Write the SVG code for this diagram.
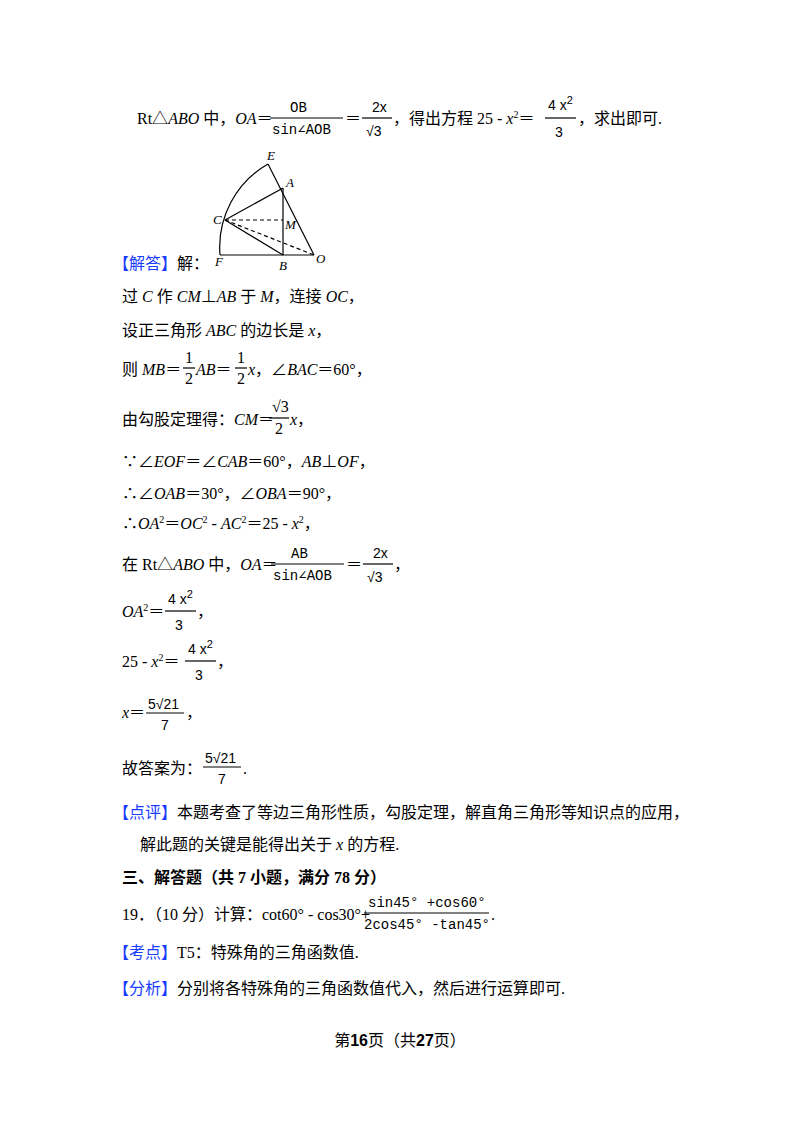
<svg xmlns="http://www.w3.org/2000/svg" width="800" height="1132" viewBox="0 0 800 1132">
<style>
text{font-family:"Liberation Serif","Noto Sans CJK SC",serif;font-size:16px;fill:#000}
.m{font-family:"Liberation Mono","DejaVu Sans Mono",monospace;font-size:14px}
.s{font-family:"Liberation Sans",sans-serif;font-size:14px}
.b{fill:#1a3cff}
.l{font-style:italic;font-size:13px}
line,path{stroke:#000;stroke-width:1.2;fill:none}
.d{stroke-dasharray:4 3}
.h{font-weight:bold}
</style>
<rect width="800" height="1132" fill="#fff"/>
<g id="top">
<text x="137" y="124">Rt△<tspan font-style="italic">ABO</tspan> 中，<tspan font-style="italic">OA</tspan>＝</text>
<text class="m" x="290" y="112">OB</text><line x1="270" y1="118" x2="343" y2="118"/><text class="m" x="272" y="134">sin∠AOB</text>
<text x="345" y="124">＝</text>
<text class="s" x="372" y="112">2x</text><line x1="362" y1="118" x2="392" y2="118"/><text class="s" x="366" y="136">√3</text>
<text x="393" y="124">，得出方程 25 - <tspan font-style="italic">x</tspan><tspan font-size="10" dy="-6">2</tspan><tspan dy="6">＝</tspan></text>
<text class="s" x="548" y="110">4 x<tspan dy="-6" font-size="11">2</tspan></text><line x1="545" y1="118" x2="576" y2="118"/><text class="s" x="555" y="137">3</text>
<text x="578" y="124">，求出即可.</text>
</g>
<g id="figure">
<path d="M220,255 A96,96 0 0 1 268,164"/>
<line x1="268" y1="164" x2="314" y2="255"/>
<line x1="220" y1="255" x2="314" y2="255"/>
<line x1="283" y1="188" x2="283" y2="255"/>
<line x1="225" y1="220" x2="283" y2="188"/>
<line x1="225" y1="220" x2="283" y2="255"/>
<line class="d" x1="225" y1="220" x2="283" y2="220"/>
<line class="d" x1="225" y1="220" x2="314" y2="255"/>
<text class="l" x="267" y="160">E</text>
<text class="l" x="286" y="187">A</text>
<text class="l" x="213" y="224">C</text>
<text class="l" x="285" y="229">M</text>
<text class="l" x="215" y="266">F</text>
<text class="l" x="279" y="270">B</text>
<text class="l" x="316" y="263">O</text>
</g>
<g id="solution">
<text x="113" y="269"><tspan class="b">【解答】</tspan>解：</text>
<text x="122" y="302">过 <tspan font-style="italic">C</tspan> 作 <tspan font-style="italic">CM</tspan>⊥<tspan font-style="italic">AB</tspan> 于 <tspan font-style="italic">M</tspan>，连接 <tspan font-style="italic">OC</tspan>，</text>
<text x="122" y="336">设正三角形 <tspan font-style="italic">ABC</tspan> 的边长是 <tspan font-style="italic">x</tspan>，</text>
<text x="122" y="375">则 <tspan font-style="italic">MB</tspan>＝</text>
<text x="185" y="363" font-size="14">1</text><line x1="183" y1="368" x2="195" y2="368"/><text x="185" y="384" font-size="14">2</text>
<text x="196" y="375"><tspan font-style="italic">AB</tspan>＝</text>
<text x="237" y="363" font-size="14">1</text><line x1="235" y1="368" x2="247" y2="368"/><text x="237" y="384" font-size="14">2</text>
<text x="248" y="375"><tspan font-style="italic">x</tspan>，∠<tspan font-style="italic">BAC</tspan>＝60°，</text>
<text x="122" y="425">由勾股定理得：<tspan font-style="italic">CM</tspan>＝</text>
<text x="272" y="412" font-size="14">√3</text><line x1="269" y1="418" x2="289" y2="418"/><text x="275" y="434" font-size="14">2</text>
<text x="290" y="425"><tspan font-style="italic">x</tspan>，</text>
<text x="122" y="467">∵∠<tspan font-style="italic">EOF</tspan>＝∠<tspan font-style="italic">CAB</tspan>＝60°，<tspan font-style="italic">AB</tspan>⊥<tspan font-style="italic">OF</tspan>，</text>
<text x="122" y="499">∴∠<tspan font-style="italic">OAB</tspan>＝30°，∠<tspan font-style="italic">OBA</tspan>＝90°，</text>
<text x="122" y="529">∴<tspan font-style="italic">OA</tspan><tspan font-size="10" dy="-6">2</tspan><tspan dy="6">＝</tspan><tspan font-style="italic">OC</tspan><tspan font-size="10" dy="-6">2</tspan><tspan dy="6"> - </tspan><tspan font-style="italic">AC</tspan><tspan font-size="10" dy="-6">2</tspan><tspan dy="6">＝25 - </tspan><tspan font-style="italic">x</tspan><tspan font-size="10" dy="-6">2</tspan><tspan dy="6">，</tspan></text>
<text x="122" y="570">在 Rt△<tspan font-style="italic">ABO</tspan> 中，<tspan font-style="italic">OA</tspan>＝</text>
<text class="m" x="291" y="558">AB</text><line x1="271" y1="564" x2="344" y2="564"/><text class="m" x="273" y="580">sin∠AOB</text>
<text x="346" y="570">＝</text>
<text class="s" x="373" y="558">2x</text><line x1="363" y1="564" x2="393" y2="564"/><text class="s" x="367" y="582">√3</text>
<text x="394" y="570">，</text>
<text x="122" y="617"><tspan font-style="italic">OA</tspan><tspan font-size="10" dy="-6">2</tspan><tspan dy="6">＝</tspan></text>
<text class="s" x="168" y="604">4 x<tspan dy="-6" font-size="11">2</tspan></text><line x1="165" y1="611" x2="196" y2="611"/><text class="s" x="175" y="630">3</text>
<text x="197" y="617">，</text>
<text x="122" y="667">25 - <tspan font-style="italic">x</tspan><tspan font-size="10" dy="-6">2</tspan><tspan dy="6">＝</tspan></text>
<text class="s" x="188" y="654">4 x<tspan dy="-6" font-size="11">2</tspan></text><line x1="185" y1="661" x2="216" y2="661"/><text class="s" x="195" y="680">3</text>
<text x="217" y="667">，</text>
<text x="122" y="718"><tspan font-style="italic">x</tspan>＝</text>
<text class="s" x="148" y="709">5√21</text><line x1="146" y1="713" x2="184" y2="713"/><text class="s" x="161" y="730">7</text>
<text x="186" y="718">，</text>
<text x="122" y="774">故答案为：</text>
<text class="s" x="205" y="763">5√21</text><line x1="203" y1="767" x2="241" y2="767"/><text class="s" x="218" y="784">7</text>
<text x="243" y="774">.</text>
</g>
<g id="comment">
<text x="113" y="818"><tspan class="b">【点评】</tspan>本题考查了等边三角形性质，勾股定理，解直角三角形等知识点的应用，</text>
<text x="140" y="850">解此题的关键是能得出关于 <tspan font-style="italic">x</tspan> 的方程.</text>
</g>
<g id="q19">
<text x="122" y="883" class="h">三、解答题（共 7 小题，满分 78 分）</text>
<text x="122" y="920">19．（10 分）计算：cot60° - cos30°+</text>
<text class="m" x="368" y="907">sin45° +cos60°</text><line x1="364" y1="913" x2="489" y2="913"/><text class="m" x="364" y="929">2cos45° -tan45°</text>
<text x="491" y="920">.</text>
<text x="113" y="958"><tspan class="b">【考点】</tspan>T5：特殊角的三角函数值.</text>
<text x="113" y="994"><tspan class="b">【分析】</tspan>分别将各特殊角的三角函数值代入，然后进行运算即可.</text>
</g>
<g id="footer">
<text x="400" y="1046" font-size="13" text-anchor="middle">第<tspan font-weight="bold" font-family="Liberation Sans" font-size="16">16</tspan>页（共<tspan font-weight="bold" font-family="Liberation Sans" font-size="16">27</tspan>页）</text>
</g>
</svg>
